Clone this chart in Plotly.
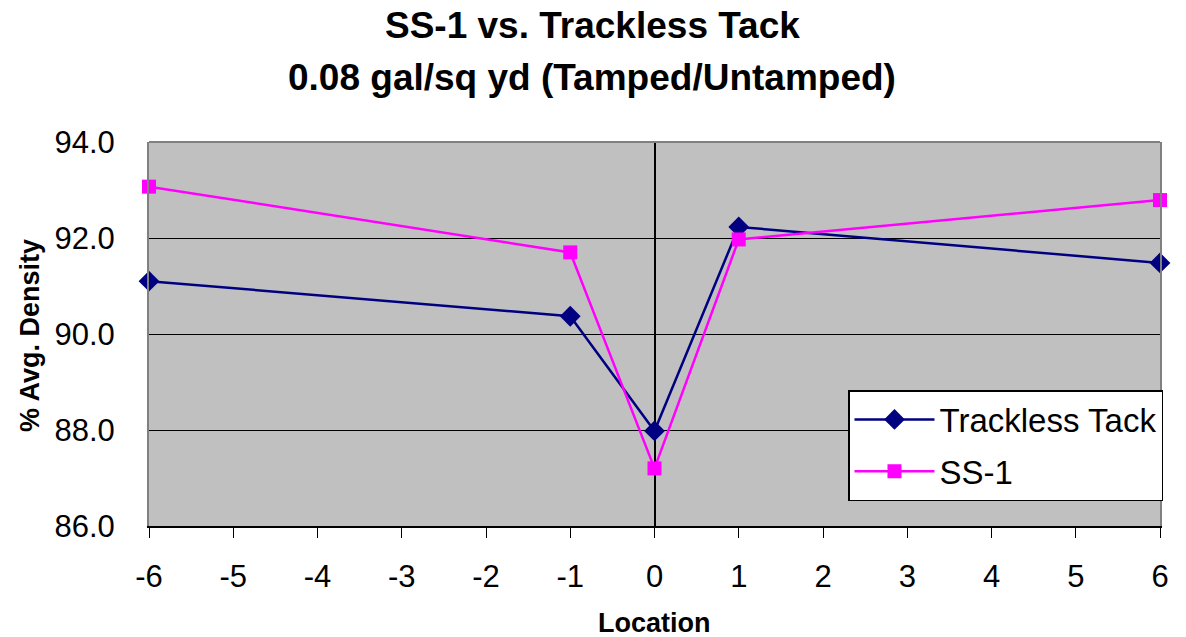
import plotly.graph_objects as go

locations = [-6, -1, 0, 1, 6]
trackless_tack = [91.10, 90.37, 87.98, 92.23, 91.48]
ss1 = [93.07, 91.70, 87.20, 91.97, 92.79]
x_ticks = list(range(-6, 7))
y_ticks = [86.0, 88.0, 90.0, 92.0, 94.0]

W, H = 1186, 637
L, R, T, B = 149, 26, 142, 111
PW, PH = W - L - R, H - T - B

def px_x(x):
    return (x - L) / PW

def px_y(y):
    return (H - B - y) / PH

fig = go.Figure()
fig.add_trace(go.Scatter(
    x=locations, y=trackless_tack, mode="lines+markers", name="Trackless Tack",
    legendgroup="a",
    line=dict(color="#000080", width=2.5),
    marker=dict(symbol="diamond", size=16, color="#000080"),
    cliponaxis=False,
))
fig.add_trace(go.Scatter(
    x=locations, y=ss1, mode="lines+markers", name="SS-1",
    legendgroup="b",
    line=dict(color="#FF00FF", width=2.5),
    marker=dict(symbol="square", size=14, color="#FF00FF"),
    cliponaxis=False,
))

font_main = "Liberation Sans, Arial, sans-serif"

fig.update_layout(
    width=W, height=H,
    margin=dict(l=L, r=R, t=T, b=B, autoexpand=False),
    paper_bgcolor="white",
    plot_bgcolor="#C0C0C0",
    font=dict(family=font_main, color="black"),
    xaxis=dict(
        range=[-6, 6], tickvals=x_ticks, ticktext=[str(v) for v in x_ticks],
        tickfont=dict(size=31), ticks="outside", ticklen=10, tickcolor="black",
        ticklabelstandoff=12,
        showgrid=False, zeroline=True, zerolinecolor="black", zerolinewidth=1.5,
        showline=True, linecolor="black", linewidth=1.5, mirror=False,
    ),
    yaxis=dict(
        range=[86, 94], tickvals=y_ticks, ticktext=[f"{v:.1f}" for v in y_ticks],
        tickfont=dict(size=31), ticks="", ticklabelstandoff=26,
        showgrid=True, gridcolor="black", gridwidth=1,
        zeroline=False,
        showline=True, linecolor="#808080", linewidth=2, mirror=True,
    ),
    legend=dict(
        x=px_x(848), xanchor="left", y=px_y(390), yanchor="top",
        bgcolor="white", bordercolor="black", borderwidth=1.5,
        font=dict(size=33), tracegroupgap=6, traceorder="grouped",
        itemwidth=80,
    ),
    showlegend=True,
    shapes=[dict(type="line", xref="paper", yref="paper", x0=0, x1=1, y0=1, y1=1,
                 line=dict(color="#808080", width=2))],
    annotations=[
        dict(text="<b>SS-1 vs. Trackless Tack</b>", xref="paper", yref="paper",
             x=px_x(592), y=px_y(25), xanchor="center", yanchor="middle",
             showarrow=False, font=dict(size=37)),
        dict(text="<b>0.08 gal/sq yd (Tamped/Untamped)</b>", xref="paper", yref="paper",
             x=px_x(592), y=px_y(77), xanchor="center", yanchor="middle",
             showarrow=False, font=dict(size=37)),
        dict(text="<b>Location</b>", xref="paper", yref="paper",
             x=px_x(654), y=px_y(623), xanchor="center", yanchor="middle",
             showarrow=False, font=dict(size=27)),
        dict(text="<b>% Avg. Density</b>", xref="paper", yref="paper",
             x=px_x(30), y=px_y(336), xanchor="center", yanchor="middle",
             showarrow=False, textangle=-90, font=dict(size=27)),
    ],
)

fig.write_html("out.html")
